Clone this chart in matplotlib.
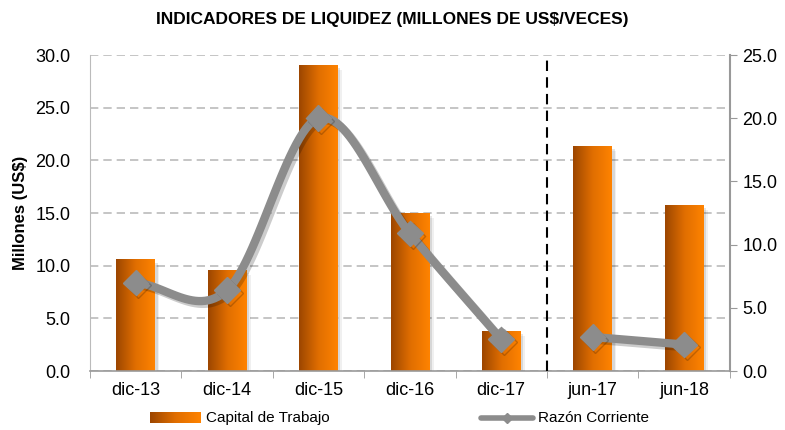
import numpy as np
import matplotlib.pyplot as plt
from matplotlib.patches import Rectangle
from matplotlib.colors import LinearSegmentedColormap
import matplotlib.patheffects as pe

plt.rcParams['font.family'] = ['Liberation Sans', 'DejaVu Sans']

# datos
categorias = ['dic-13', 'dic-14', 'dic-15', 'dic-16', 'dic-17', 'jun-17', 'jun-18']
capital_trabajo = [10.6, 9.6, 29.1, 15.0, 3.8, 21.4, 15.8]
razon_anual = [7.0, 6.4, 20.0, 10.9, 2.5]
razon_semestral = [2.7, 2.1]

def catmull_rom(x, y, n=30):
    # suavizado tipo Excel entre los puntos dados
    x = np.asarray(x, float); y = np.asarray(y, float)
    px = np.concatenate([[2*x[0]-x[1]], x, [2*x[-1]-x[-2]]])
    py = np.concatenate([[2*y[0]-y[1]], y, [2*y[-1]-y[-2]]])
    xs, ys = [], []
    t = np.linspace(0, 1, n)
    for i in range(1, len(px)-2):
        for p, out in ((px, xs), (py, ys)):
            p0, p1, p2, p3 = p[i-1], p[i], p[i+1], p[i+2]
            out.extend(0.5*((2*p1) + (-p0+p2)*t + (2*p0-5*p1+4*p2-p3)*t**2 + (-p0+3*p1-3*p2+p3)*t**3))
    return np.array(xs), np.array(ys)

fig = plt.figure(figsize=(7.85, 4.30), dpi=100)
ax = fig.add_axes([0.1146, 0.137, 0.815, 0.735])
ax2 = ax.twinx()

x = np.arange(len(categorias))
ancho = 0.42
grad = np.linspace(0, 1, 256).reshape(1, -1)
cmap = LinearSegmentedColormap.from_list('naranja', ['#9C4600', '#E06E00', '#FF8300'])

for xi, v in zip(x, capital_trabajo):
    # sombra
    ax.add_patch(Rectangle((xi - ancho/2 + 0.03, 0), ancho, v - 0.3, color='#000000', alpha=0.10, lw=0, zorder=1))
    ax.add_patch(Rectangle((xi - ancho/2 + 0.05, 0), ancho, v - 0.5, color='#000000', alpha=0.06, lw=0, zorder=1))
    r = Rectangle((xi - ancho/2, 0), ancho, v, facecolor='none', lw=0, zorder=2)
    ax.add_patch(r)
    im = ax.imshow(grad, cmap=cmap, aspect='auto', extent=(xi - ancho/2, xi + ancho/2, 0, v), zorder=2)
    im.set_clip_path(r)

ax.set_xlim(-0.5, len(categorias) - 0.5)
ax.set_ylim(0, 30)
ax.set_yticks(np.arange(0, 30.1, 5))
ax.set_yticklabels([f'{v:.1f}' for v in np.arange(0, 30.1, 5)], fontsize=13)
ax.set_xticks(x)
ax.set_xticklabels(categorias, fontsize=13)
ax.set_xticks(np.arange(-0.5, len(categorias), 1), minor=True)
ax.tick_params(axis='x', which='major', length=0, pad=8)
ax.tick_params(axis='x', which='minor', length=5, color='#999999')
ax.tick_params(axis='y', length=0, pad=14)
ax.yaxis.grid(True, linestyle=(0, (5, 3)), color='#BBBBBB', lw=1.2)
ax.set_axisbelow(True)
ax.set_ylabel('Millones (US$)', fontsize=12, fontweight='bold', labelpad=5)

for s in ['top', 'right']:
    ax.spines[s].set_visible(False)
ax.spines['left'].set_color('#BBBBBB')
ax.spines['bottom'].set_color('#999999')
ax.spines['bottom'].set_linewidth(1.2)

ax.axvline(4.5, color='black', linestyle=(0, (5, 3)), lw=1.5, zorder=3)

sombra = [pe.SimpleLineShadow(offset=(2, -2), alpha=0.2), pe.Normal()]
sx, sy = catmull_rom(x[:5], razon_anual)
ax2.plot(sx, sy, color='#8C8C8C', lw=6, zorder=4, solid_capstyle='round', path_effects=sombra)
ax2.plot(x[:5], razon_anual, 'D', color='#8C8C8C', ms=13, zorder=5, path_effects=sombra)
ax2.plot(x[5:], razon_semestral, color='#8C8C8C', lw=6, marker='D', ms=13, zorder=5, path_effects=sombra)

ax2.set_ylim(0, 25)
ax2.set_yticks(np.arange(0, 25.1, 5))
ax2.set_yticklabels([f'{v:.1f}' for v in np.arange(0, 25.1, 5)], fontsize=13)
ax2.tick_params(axis='y', length=5, color='#999999', pad=4)
for s in ['top', 'left', 'bottom']:
    ax2.spines[s].set_visible(False)
ax2.spines['right'].set_color('#999999')
ax2.spines['right'].set_linewidth(1.5)

fig.text(0.5, 0.955, 'INDICADORES DE LIQUIDEZ (MILLONES DE US$/VECES)', ha='center', va='center',
         fontsize=12.5, fontweight='bold')

# leyenda
lax = fig.add_axes([0, 0, 1, 0.06])
lax.axis('off')
lax.imshow(grad, cmap=cmap, aspect='auto', extent=(150, 201, 7, 18))
lax.set_xlim(0, 785); lax.set_ylim(0, 26)
lax.text(206, 12.5, 'Capital de Trabajo', fontsize=11, va='center')
lax.plot([481, 533], [12.5, 12.5], color='#8C8C8C', lw=4, solid_capstyle='round')
lax.plot([507], [12.5], 'D', color='#8C8C8C', ms=5)
lax.text(538, 12.5, 'Razón Corriente', fontsize=11, va='center')

fig.savefig('out.png', dpi=100)
